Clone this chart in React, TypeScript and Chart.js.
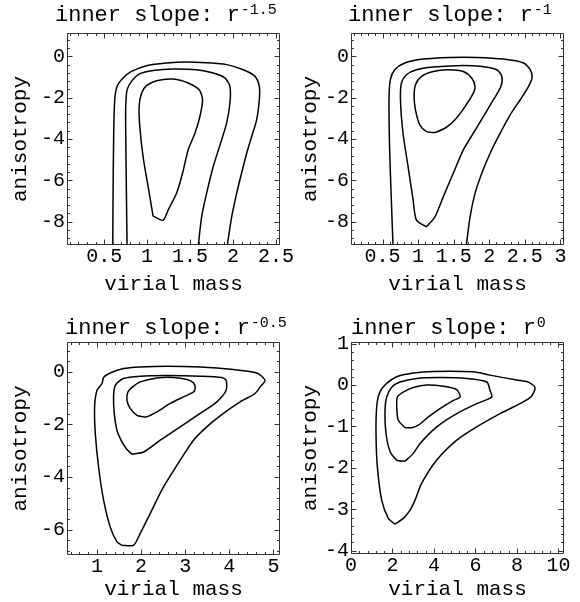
import { useEffect, useRef } from "react";
import { Chart, registerables } from "chart.js";

Chart.register(...registerables);

type Pt = [number, number];

// ---------- data ----------
const titleText = "inner slope: r";
const slopeExponents = ["-1.5", "-1", "-0.5", "0"];
const xAxisTitle = "virial mass";
const yAxisTitle = "anisotropy";

// panel 1: r^-1.5
const p1XTicks = [0.5, 1, 1.5, 2, 2.5];
const p1YTicks = [-8, -6, -4, -2, 0];
const p1Outer: Pt[] = [[0.60, -9.4], [0.603, -6.96], [0.611, -3.72], [0.623, -2.10], [0.650, -1.46], [0.720, -1.05], [0.818, -0.73], [0.993, -0.45], [1.226, -0.32], [1.46, -0.27], [1.693, -0.31], [1.926, -0.40], [2.12, -0.65], [2.257, -0.97], [2.307, -1.46], [2.307, -2.10], [2.276, -3.07], [2.218, -3.88], [2.16, -4.69], [2.10, -5.66], [2.043, -6.63], [1.985, -7.77], [1.925, -9.4]];
const p1Middle: Pt[] = [[0.767, -9.4], [0.760, -6.96], [0.751, -3.72], [0.751, -2.43], [0.767, -1.62], [0.818, -1.21], [0.915, -0.84], [1.07, -0.68], [1.303, -0.61], [1.576, -0.65], [1.77, -0.81], [1.907, -1.05], [1.965, -1.46], [1.965, -2.26], [1.926, -3.23], [1.856, -4.20], [1.77, -5.34], [1.693, -6.63], [1.635, -7.77], [1.59, -9.4]];
const p1Inner: Pt[] = [[1.07, -7.73], [1.012, -6.31], [0.953, -4.85], [0.915, -3.40], [0.907, -2.43], [0.935, -1.78], [0.993, -1.42], [1.11, -1.18], [1.303, -1.10], [1.478, -1.29], [1.607, -1.62], [1.646, -2.10], [1.615, -2.91], [1.557, -3.72], [1.478, -4.53], [1.413, -5.66], [1.343, -6.63], [1.245, -7.44], [1.187, -7.93], [1.07, -7.73]];

// panel 2: r^-1
const p2XTicks = [0.5, 1, 1.5, 2, 2.5, 3];
const p2YTicks = [-8, -6, -4, -2, 0];
const p2Outer: Pt[] = [[0.65, -9.4], [0.624, -6.96], [0.60, -4.53], [0.591, -2.10], [0.61, -1.13], [0.671, -0.65], [0.812, -0.32], [1.071, -0.13], [1.447, -0.05], [1.824, -0.05], [2.20, -0.13], [2.482, -0.32], [2.577, -0.65], [2.60, -1.05], [2.539, -1.54], [2.435, -2.10], [2.294, -2.83], [2.153, -3.72], [2.012, -4.69], [1.895, -5.66], [1.80, -6.63], [1.73, -7.77], [1.668, -9.4]];
const p2Middle: Pt[] = [[1.118, -8.25], [0.977, -7.93], [0.930, -6.96], [0.859, -5.34], [0.788, -3.72], [0.752, -2.10], [0.766, -1.29], [0.836, -0.89], [0.977, -0.65], [1.212, -0.52], [1.542, -0.45], [1.871, -0.48], [2.106, -0.65], [2.177, -0.97], [2.163, -1.46], [2.059, -2.10], [1.918, -2.91], [1.776, -3.72], [1.635, -4.53], [1.494, -5.66], [1.353, -6.80], [1.236, -7.77], [1.118, -8.25]];
const p2Inner: Pt[] = [[1.236, -3.69], [1.118, -3.64], [1.024, -3.32], [0.963, -2.59], [0.944, -1.94], [0.963, -1.37], [1.048, -0.97], [1.212, -0.73], [1.423, -0.65], [1.635, -0.73], [1.753, -1.05], [1.80, -1.46], [1.776, -1.78], [1.659, -2.43], [1.518, -3.07], [1.377, -3.48], [1.236, -3.69]];

// panel 3: r^-0.5
const p3XTicks = [1, 2, 3, 4, 5];
const p3YTicks = [-6, -4, -2, 0];
const p3Outer: Pt[] = [[1.566, -6.60], [1.829, -6.60], [1.98, -6.15], [2.207, -5.39], [2.508, -4.38], [2.887, -3.36], [3.188, -2.60], [3.49, -2.09], [3.868, -1.58], [4.246, -1.14], [4.585, -0.82], [4.699, -0.57], [4.812, -0.32], [4.624, -0.04], [4.094, 0.09], [3.34, 0.19], [2.585, 0.22], [1.98, 0.19], [1.60, 0.13], [1.30, -0.04], [1.15, -0.21], [1.113, -0.44], [1.0, -0.70], [0.946, -1.33], [0.962, -2.35], [1.036, -3.62], [1.15, -4.88], [1.30, -5.90], [1.453, -6.47], [1.566, -6.60]];
const p3Middle: Pt[] = [[1.793, -3.13], [2.056, -3.05], [2.434, -2.60], [2.887, -2.09], [3.34, -1.58], [3.718, -1.14], [3.929, -0.70], [3.929, -0.32], [3.831, -0.21], [3.34, -0.16], [2.585, -0.14], [1.98, -0.16], [1.60, -0.25], [1.415, -0.51], [1.376, -0.95], [1.392, -1.58], [1.453, -2.22], [1.566, -2.66], [1.68, -2.95], [1.793, -3.13]];
const p3Inner: Pt[] = [[2.056, -1.71], [1.906, -1.65], [1.754, -1.39], [1.68, -1.08], [1.70, -0.76], [1.793, -0.59], [1.98, -0.38], [2.359, -0.23], [2.735, -0.21], [3.04, -0.29], [3.19, -0.42], [3.226, -0.59], [3.19, -0.76], [2.962, -0.95], [2.66, -1.20], [2.359, -1.52], [2.13, -1.71], [2.056, -1.71]];

// panel 4: r^0
const p4XTicks = [0, 2, 4, 6, 8, 10];
const p4YTicks = [-4, -3, -2, -1, 0, 1];
const p4Outer: Pt[] = [[2.12, -3.36], [1.80, -3.22], [1.48, -2.78], [1.27, -1.97], [1.206, -1.17], [1.238, -0.53], [1.367, -0.20], [1.64, 0.0], [2.2, 0.20], [3.005, 0.29], [3.97, 0.33], [5.90, 0.32], [6.70, 0.24], [7.99, 0.12], [8.55, 0.07], [8.876, -0.06], [8.67, -0.29], [8.15, -0.45], [7.19, -0.69], [6.06, -1.01], [5.10, -1.33], [4.134, -1.81], [3.41, -2.37], [3.087, -2.78], [2.85, -3.02], [2.52, -3.22], [2.12, -3.36]];
const p4Middle: Pt[] = [[2.605, -1.84], [2.205, -1.81], [1.89, -1.61], [1.688, -1.17], [1.64, -0.61], [1.72, -0.29], [1.963, -0.05], [2.36, 0.075], [3.17, 0.16], [4.29, 0.18], [5.58, 0.16], [6.55, 0.075], [6.70, -0.125], [6.79, -0.29], [6.06, -0.45], [5.10, -0.69], [4.134, -1.01], [3.33, -1.41], [3.005, -1.65], [2.605, -1.84]];
const p4Inner: Pt[] = [[2.605, -1.03], [2.28, -0.85], [2.205, -0.53], [2.235, -0.29], [2.52, -0.17], [3.005, -0.06], [3.65, 0.0], [4.45, -0.03], [5.10, -0.11], [5.26, -0.29], [4.94, -0.37], [4.29, -0.57], [3.73, -0.77], [3.247, -0.97], [2.93, -1.03], [2.605, -1.03]];

// ---------- layout / style ----------
const W = 580;
const H = 602;
const FONT = '"Liberation Mono", "DejaVu Sans Mono", monospace';

interface Panel {
  contours: Pt[][];
  xTicks: number[];
  yTicks: number[];
  xRange: [number, number];
  yRange: [number, number];
  xMinor: number;
  yMinor: number;
  exponent: string;
  pad: { left: number; top: number; right: number; bottom: number };
  yWidth: number;
  xHeight: number;
  xTitlePad: number;
  titleX: number;
  titleY: number;
}

const panels: Panel[] = [
  {
    contours: [p1Outer, p1Middle, p1Inner], xTicks: p1XTicks, yTicks: p1YTicks,
    xRange: [0.067, 2.548], yRange: [-9.13, 1.13], xMinor: 0.1, yMinor: 0.4, exponent: slopeExponents[0],
    pad: { left: 0, top: 33, right: 300, bottom: 302 }, yWidth: 67, xHeight: 55, xTitlePad: 3,
    titleX: 55, titleY: 21,
  },
  {
    contours: [p2Outer, p2Middle, p2Inner], xTicks: p2XTicks, yTicks: p2YTicks,
    xRange: [0.057, 3.05], yRange: [-9.13, 1.13], xMinor: 0.1, yMinor: 0.4, exponent: slopeExponents[1],
    pad: { left: 290, top: 33, right: 16, bottom: 302 }, yWidth: 61, xHeight: 55, xTitlePad: 3,
    titleX: 348, titleY: 21,
  },
  {
    contours: [p3Outer, p3Middle, p3Inner], xTicks: p3XTicks, yTicks: p3YTicks,
    xRange: [0.32, 5.15], yRange: [-6.97, 1.14], xMinor: 0.2, yMinor: 0.4, exponent: slopeExponents[2],
    pad: { left: 0, top: 342, right: 300, bottom: 0 }, yWidth: 67, xHeight: 47, xTitlePad: 0,
    titleX: 65, titleY: 334,
  },
  {
    contours: [p4Outer, p4Middle, p4Inner], xTicks: p4XTicks, yTicks: p4YTicks,
    xRange: [0, 10.27], yRange: [-4.08, 1.04], xMinor: 0.4, yMinor: 0.2, exponent: slopeExponents[3],
    pad: { left: 290, top: 342, right: 16, bottom: 0 }, yWidth: 61, xHeight: 48, xTitlePad: 0,
    titleX: 351, titleY: 334,
  },
];

const framePlugin = {
  id: "frame",
  afterDraw(chart: any, _args: any, opts: any) {
    const { ctx, chartArea: a, scales } = chart;
    const x = scales.x;
    const y = scales.y;
    ctx.save();
    ctx.strokeStyle = "#333";
    ctx.lineWidth = 1;
    const L = Math.round(a.left) + 0.5;
    const R = Math.round(a.right) - 0.5;
    const T = Math.round(a.top) + 0.5;
    const B = Math.round(a.bottom) - 0.5;
    ctx.beginPath();
    ctx.rect(L, T, R - L, B - T);
    const majorLen = 5;
    const minorLen = 2.5;
    const xTick = (v: number, len: number) => {
      const px = Math.round(x.getPixelForValue(v)) + 0.5;
      ctx.moveTo(px, B);
      ctx.lineTo(px, B - len);
      ctx.moveTo(px, T);
      ctx.lineTo(px, T + len);
    };
    const yTick = (v: number, len: number) => {
      const py = Math.round(y.getPixelForValue(v)) + 0.5;
      ctx.moveTo(L, py);
      ctx.lineTo(L + len, py);
      ctx.moveTo(R, py);
      ctx.lineTo(R - len, py);
    };
    for (let i = Math.ceil(x.min / opts.xMinor - 1e-6); i * opts.xMinor <= x.max + 1e-9; i++) {
      xTick(i * opts.xMinor, minorLen);
    }
    for (let i = Math.ceil(y.min / opts.yMinor - 1e-6); i * opts.yMinor <= y.max + 1e-9; i++) {
      yTick(i * opts.yMinor, minorLen);
    }
    x.ticks.forEach((t: any) => xTick(t.value, majorLen));
    y.ticks.forEach((t: any) => yTick(t.value, majorLen));
    ctx.stroke();

    // title with superscript exponent
    ctx.fillStyle = "#000";
    ctx.textBaseline = "alphabetic";
    ctx.textAlign = "left";
    ctx.font = `22px ${FONT}`;
    ctx.fillText(opts.title, opts.titleX, opts.titleY);
    const w = ctx.measureText(opts.title).width;
    ctx.font = `15px ${FONT}`;
    ctx.fillText(opts.exponent, opts.titleX + w + 1, opts.titleY - 7);
    ctx.restore();
  },
};

function makeConfig(p: Panel): any {
  return {
    type: "scatter",
    data: {
      datasets: p.contours.map((c) => ({
        data: c.map(([vx, vy]) => ({ x: vx, y: vy })),
        showLine: true,
        borderColor: "#000",
        borderWidth: 1.5,
        pointRadius: 0,
        pointHoverRadius: 0,
        tension: 0.25,
        fill: false,
      })),
    },
    options: {
      animation: false,
      responsive: false,
      devicePixelRatio: 1,
      events: [],
      layout: { padding: p.pad },
      plugins: {
        legend: { display: false },
        tooltip: { enabled: false },
        title: { display: false },
        frame: {
          xMinor: p.xMinor,
          yMinor: p.yMinor,
          title: titleText,
          exponent: p.exponent,
          titleX: p.titleX,
          titleY: p.titleY,
        },
      },
      scales: {
        x: {
          type: "linear",
          min: p.xRange[0],
          max: p.xRange[1],
          grid: { display: false, drawTicks: false },
          border: { display: false },
          afterBuildTicks: (s: any) => {
            s.ticks = p.xTicks.map((v) => ({ value: v }));
          },
          afterFit: (s: any) => {
            s.height = p.xHeight;
          },
          ticks: {
            autoSkip: false,
            maxRotation: 0,
            minRotation: 0,
            padding: 0,
            color: "#000",
            font: { family: FONT, size: 20 },
            callback: (v: number) => String(v),
          },
          title: {
            display: true,
            text: xAxisTitle,
            color: "#000",
            font: { family: FONT, size: 21 },
            padding: { top: 0, bottom: p.xTitlePad },
          },
        },
        y: {
          type: "linear",
          min: p.yRange[0],
          max: p.yRange[1],
          grid: { display: false, drawTicks: false },
          border: { display: false },
          afterBuildTicks: (s: any) => {
            s.ticks = p.yTicks.map((v) => ({ value: v }));
          },
          afterFit: (s: any) => {
            s.width = p.yWidth;
          },
          ticks: {
            autoSkip: false,
            padding: 2,
            color: "#000",
            font: { family: FONT, size: 20 },
            callback: (v: number) => String(v),
          },
          title: {
            display: true,
            text: yAxisTitle,
            color: "#000",
            font: { family: FONT, size: 21 },
            padding: { top: 8, bottom: 0 },
          },
        },
      },
    },
    plugins: [framePlugin],
  };
}

function PanelCanvas({ panel }: { panel: Panel }) {
  const ref = useRef<HTMLCanvasElement | null>(null);
  useEffect(() => {
    if (!ref.current) return;
    const chart = new Chart(ref.current, makeConfig(panel));
    return () => chart.destroy();
  }, [panel]);
  return (
    <canvas
      ref={ref}
      width={W}
      height={H}
      style={{ position: "absolute", left: 0, top: 0, width: W, height: H }}
    />
  );
}

export default function App() {
  return (
    <div style={{ position: "absolute", left: 0, top: 0, width: W, height: H, background: "#fff" }}>
      {panels.map((p, i) => (
        <PanelCanvas key={i} panel={p} />
      ))}
    </div>
  );
}
